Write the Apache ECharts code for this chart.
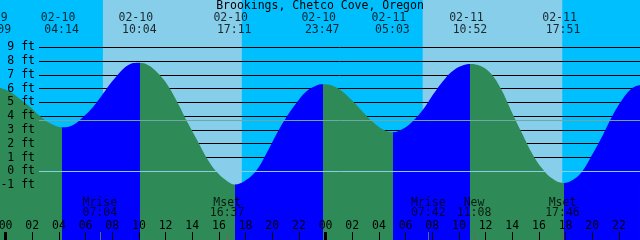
<!DOCTYPE html>
<html><head><meta charset="utf-8">
<script src="https://cdn.jsdelivr.net/npm/echarts@6/dist/echarts.min.js"></script>
<style>html,body{margin:0;padding:0;background:#00BFFF}#c{width:640px;height:240px}</style>
</head><body><div id="c"></div>
<script>
// ---------------- data ----------------
const TITLE = 'Brookings, Chetco Cove, Oregon';
// hours after 02-10 00:00 and tide height in feet
const sampleHours = [-0.42,0.33,1.08,1.83,2.58,3.33,4.23,5.06,5.83,6.58,7.33,8.08,9.18,10.07,10.68,11.43,12.18,12.93,13.68,14.43,15.18,15.93,16.68,17.18,17.93,18.78,19.53,20.28,21.03,21.78,22.53,23.28,23.78,24.53,25.28,26.03,26.78,27.53,28.38,29.05,29.88,30.63,31.38,32.13,32.88,33.63,34.38,34.87,35.63,36.38,37.13,37.98,38.73,39.48,40.23,40.98,41.85,42.53,43.23,43.98,44.73,45.48,46.23,46.98,47.58];
const sampleFeet  = [6.07,5.78,5.25,4.69,4.01,3.48,3.19,3.36,3.96,4.69,5.66,6.63,7.70,7.88,7.71,7.11,6.21,4.93,3.48,2.15,0.82,-0.15,-0.75,-0.95,-0.70,0.02,1.23,2.63,3.89,4.93,5.78,6.21,6.31,6.21,5.78,5.10,4.33,3.60,3.00,2.83,3.12,3.72,4.57,5.66,6.63,7.35,7.71,7.79,7.64,7.11,6.02,4.27,2.76,1.31,0.22,-0.51,-0.85,-0.63,-0.03,1.18,2.51,3.96,5.17,6.02,6.26];
const tideDates = ['02-09','02-10','02-10','02-10','02-10','02-11','02-11','02-11'];
const tideTimes = ['23:09','04:14','10:04','17:11','23:47','05:03','10:52','17:51'];
const tideKinds = ['High','Low','High','Low','High','Low','High','Low'];
const sunDates = ['02-10','02-10','02-11','02-11'];
const sunTimes = ['07:18','17:43','07:17','17:45'];
const moonNames = ['Mrise','Mset','Mrise','New','Mset'];
const moonDates = ['02-10','02-10','02-11','02-11','02-11'];
const moonTimes = ['07:04','16:37','07:42','11:08','17:46'];
const hourTicks = [0,2,4,6,8,10,12,14,16,18,20,22,24,26,28,30,32,34,36,38,40,42,44,46];
const midnightTicks = [0,24];
const footMin = -1, footMax = 9;
const meanLevel = 3.7;

// ---------------- layout & style ----------------
const W = 640, H = 240;
const X0 = 5.6, PXH = 13.333;          // pixel of 02-10 00:00, pixels per hour
const Y9 = 47.3, YM1 = 185.08;         // pixel rows of 9 ft and -1 ft
const PXF = (YM1 - Y9) / (footMax - footMin);
const FONT = 'DejaVu Sans Mono', FS = 11.5;
const NIGHT = '#00BFFF', DAY = '#87CEEB', FLOOD = '#0000FF', EBB = '#2E8B57';
const xMin = -X0 / PXH, xMax = (W - X0) / PXH;
const yMin = footMin - (H - YM1) / PXF, yMax = footMax + Y9 / PXF;

function toHours(d, t) {
  const day = parseInt(d.slice(3), 10) - 10;
  const [hh, mm] = t.split(':').map(Number);
  return day * 24 + hh + mm / 60;
}
const tideHours = tideDates.map((d, i) => toHours(d, tideTimes[i]));
const sunHours = sunDates.map((d, i) => toHours(d, sunTimes[i]));
const moonHours = moonDates.map((d, i) => toHours(d, moonTimes[i]));

const pieces = [{ lt: tideHours[0], color: tideKinds[0] === 'High' ? FLOOD : EBB }];
tideHours.forEach((t, i) => {
  const p = { gte: t, color: tideKinds[i] === 'Low' ? FLOOD : EBB };
  if (i < tideHours.length - 1) p.lt = tideHours[i + 1];
  pieces.push(p);
});
const dayAreas = [];
for (let i = 0; i + 1 < sunHours.length; i += 2) dayAreas.push([{ xAxis: sunHours[i] }, { xAxis: sunHours[i + 1] }]);

const pad = v => String(v).padStart(2, '0');
function textSeries(hours, row, texts, dx) {
  return {
    type: 'scatter', xAxisIndex: 0, yAxisIndex: 2, z: 8, silent: true, clip: false,
    symbolSize: 1, itemStyle: { color: 'rgba(0,0,0,0)' },
    data: hours.map(h => [h, row]),
    label: { show: true, position: 'inside', offset: [dx, 0], color: '#000', fontFamily: FONT, fontSize: FS,
      formatter: p => texts[p.dataIndex] }
  };
}

const chart = echarts.init(document.getElementById('c'), null, { renderer: 'canvas' });
chart.setOption({
  animation: false,
  backgroundColor: NIGHT,
  title: { text: TITLE, left: 'center', top: 0, padding: [0, 0, 0, 0],
    textStyle: { fontFamily: FONT, fontSize: FS, fontWeight: 'normal', color: '#000' } },
  grid: [
    { left: 0, right: 0, top: 0, bottom: 0, outerBoundsMode: 'none', containLabel: false },
    { left: 39, right: 0, top: Y9, bottom: H - YM1, outerBoundsMode: 'none', containLabel: false }
  ],
  xAxis: [
    { type: 'value', gridIndex: 0, min: xMin, max: xMax, position: 'bottom', z: 7,
      axisLine: { show: false, onZero: false }, splitLine: { show: false },
      axisTick: { show: true, inside: true, length: 8, customValues: hourTicks, lineStyle: { color: '#000', width: 1 } },
      axisLabel: { show: true, inside: true, margin: 8, customValues: hourTicks, color: '#000', fontFamily: FONT, fontSize: FS,
        hideOverlap: false, formatter: v => pad(((Math.round(v) % 24) + 24) % 24) } },
    { type: 'value', gridIndex: 0, min: xMin, max: xMax, position: 'bottom', z: 7,
      axisLine: { show: false, onZero: false }, splitLine: { show: false }, axisLabel: { show: false },
      axisTick: { show: true, inside: true, length: 8, customValues: midnightTicks, lineStyle: { color: '#000', width: 3 } } },
    { type: 'value', gridIndex: 0, min: xMin, max: xMax, position: 'bottom', z: 7,
      axisLine: { show: false, onZero: false }, splitLine: { show: false }, axisLabel: { show: false },
      axisTick: { show: true, inside: true, length: 8, customValues: moonHours, lineStyle: { color: '#666', width: 1 } } },
    { type: 'value', gridIndex: 1, min: xMin + 39 / PXH, max: xMax, show: false }
  ],
  yAxis: [
    { type: 'value', gridIndex: 0, min: yMin, max: yMax, show: false },
    { type: 'value', gridIndex: 1, min: footMin, max: footMax, interval: 1, z: 2, position: 'left',
      axisLine: { show: false, onZero: false }, axisTick: { show: false }, axisLabel: { show: false },
      splitLine: { show: true, lineStyle: { color: '#000', width: 1 } } },
    { type: 'value', gridIndex: 0, min: 0, max: H, inverse: true, show: false },
    { type: 'value', gridIndex: 1, min: footMin, max: footMax, interval: 1, z: 7, position: 'left', offset: 0,
      axisLine: { show: false, onZero: false }, axisTick: { show: false }, splitLine: { show: false },
      axisLabel: { margin: 4, color: '#000', fontFamily: FONT, fontSize: FS, formatter: '{value} ft' } }
  ],
  visualMap: { type: 'piecewise', show: false, dimension: 0, seriesIndex: 0, pieces: pieces },
  series: [
    { type: 'line', xAxisIndex: 0, yAxisIndex: 0, z: 3, smooth: 0.4, showSymbol: false, silent: true,
      data: sampleHours.map((h, i) => [h, sampleFeet[i]]),
      lineStyle: { width: 0 }, areaStyle: { origin: 'start', opacity: 1 },
      markArea: { silent: true, z: 1, itemStyle: { color: DAY, borderWidth: 0 }, data: dayAreas } },
    { type: 'line', xAxisIndex: 3, yAxisIndex: 1, z: 6, data: [], silent: true,
      markLine: { silent: true, z: 6, symbol: 'none', label: { show: false },
        data: [ { yAxis: 0, lineStyle: { color: '#8CCBE6', width: 1, type: 'solid' } },
                { yAxis: meanLevel, lineStyle: { color: '#6FA8A4', width: 1, type: 'solid' } } ] } },
    textSeries(tideHours, 18.5, tideDates, -4),
    textSeries(tideHours, 30, tideTimes, -0.5),
    textSeries(moonHours, 203, moonNames, 0),
    textSeries(moonHours, 213.5, moonTimes, 0)
  ]
});
</script></body></html>
